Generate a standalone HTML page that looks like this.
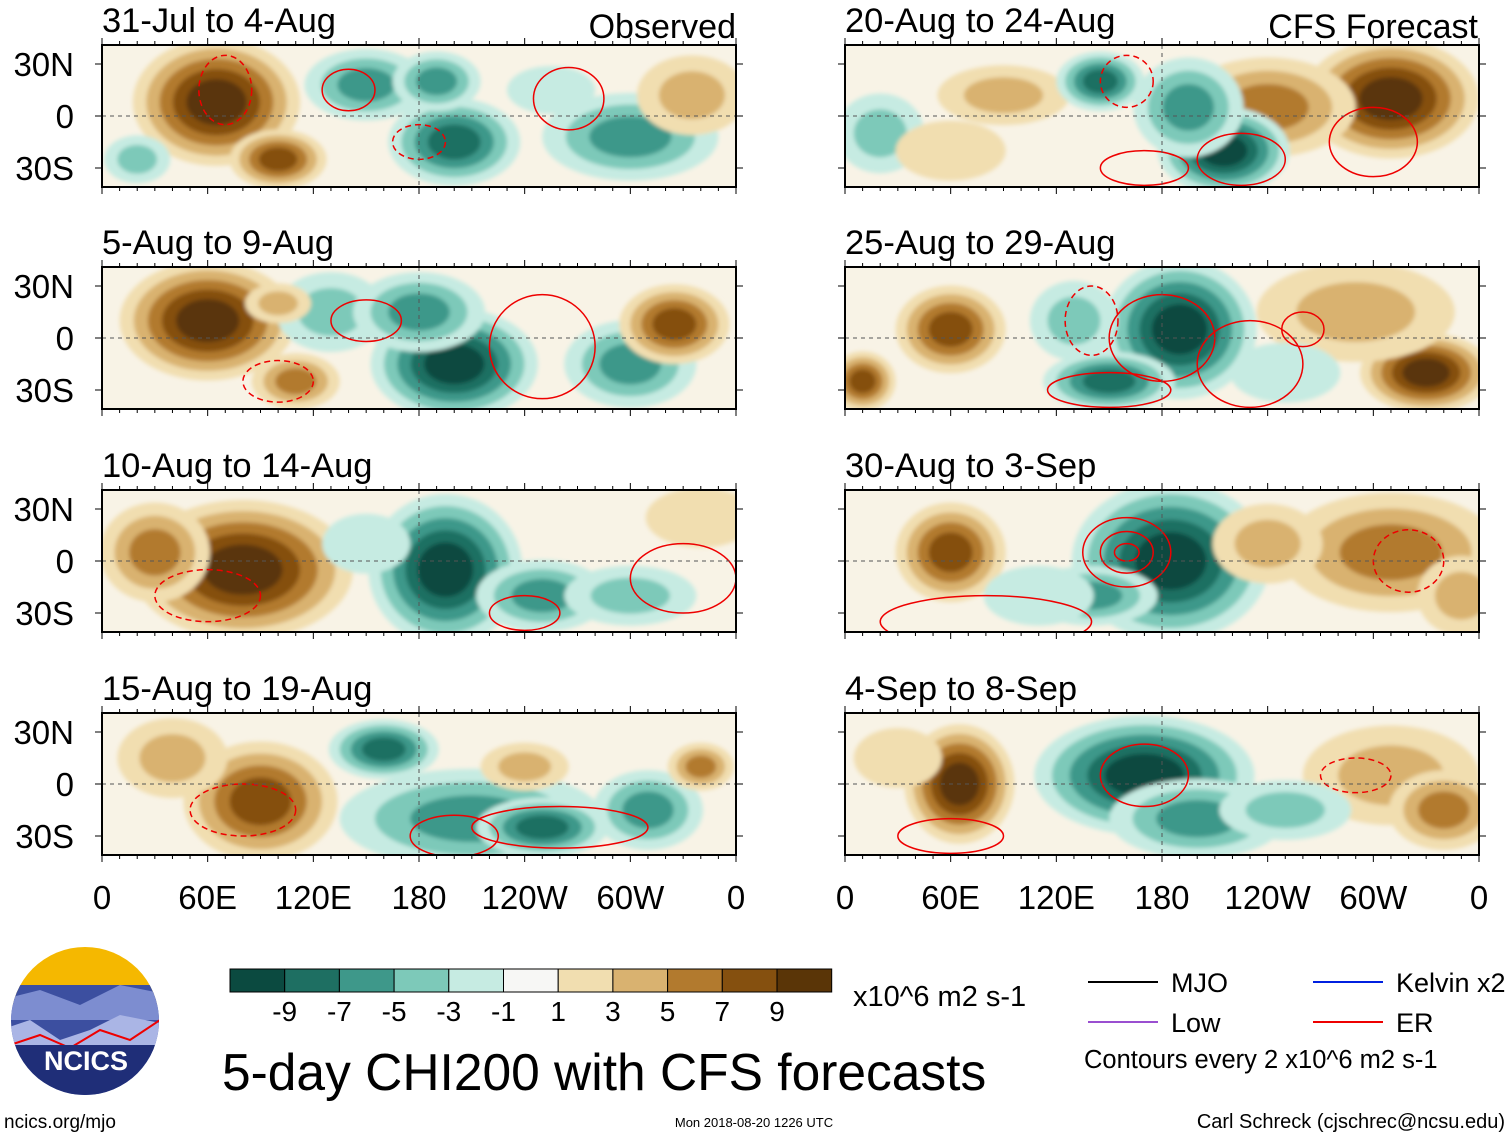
<!DOCTYPE html>
<html><head><meta charset="utf-8">
<style>
body{margin:0;background:#fff;width:1510px;height:1137px;overflow:hidden;font-family:"Liberation Sans",sans-serif;}
svg text{font-family:"Liberation Sans",sans-serif;}
</style></head>
<body>
<svg id="chart" width="1510" height="1137" viewBox="0 0 1510 1137" xmlns="http://www.w3.org/2000/svg">
<defs><filter id="bl" x="-20%" y="-20%" width="140%" height="140%"><feGaussianBlur stdDeviation="2"/></filter></defs>
</svg>
<script>
const titles=["31-Jul to 4-Aug","5-Aug to 9-Aug","10-Aug to 14-Aug","15-Aug to 19-Aug","20-Aug to 24-Aug","25-Aug to 29-Aug","30-Aug to 3-Sep","4-Sep to 8-Sep"];
const levels=[-9,-7,-5,-3,-1,1,3,5,7,9];
const levelColors=["#0b4a40","#1e6f62","#3e988a","#7dc9b9","#c6ebe2","#f7f7f5","#f1deb0","#d9b270","#b27a2e","#85500f","#5a3507"];
// blobs: [lon, lat, rxDeg, ryDeg, peak]
const blobs1=[[65,8,38,32,9],[100,-25,22,15,7],[150,18,28,18,-5],[200,-15,30,22,-7],[190,20,20,15,-5],[300,-12,40,22,-5],[335,12,25,20,3],[20,-25,15,12,-3],[255,15,20,12,-1]];
const blobs2=[[60,10,40,30,9],[110,-25,20,14,5],[130,15,25,20,-3],[200,-15,38,28,-9],[180,15,30,20,-5],[300,-15,30,22,-5],[325,8,25,20,7],[100,20,15,10,3]];
const blobs3=[[80,-5,50,35,9],[30,5,25,25,5],[195,-5,35,38,-9],[250,-20,30,18,-5],[300,-20,30,15,-3],[340,25,25,15,1],[150,10,20,15,-1]];
const blobs4=[[90,-10,35,30,7],[40,15,25,20,3],[160,20,25,15,-7],[210,-20,60,25,-5],[250,-25,30,15,-7],[240,10,20,12,3],[310,-15,25,20,-5],[340,10,15,12,5]];
const blobs5=[[310,10,40,30,9],[240,5,40,25,5],[90,12,30,15,3],[145,20,20,15,-7],[215,-20,30,22,-9],[195,5,25,25,-5],[20,-10,20,20,-3],[60,-20,25,15,1]];
const blobs6=[[190,5,35,35,-9],[150,-25,30,15,-7],[130,10,20,20,-3],[60,5,25,22,7],[330,-20,30,20,9],[10,-25,15,15,7],[290,15,45,25,3],[250,-20,25,15,-1]];
const blobs7=[[185,0,45,40,-9],[140,-20,30,15,-5],[60,5,25,25,7],[310,5,50,30,5],[240,10,25,20,3],[350,-20,20,20,3],[110,-20,25,15,-1]];
const blobs8=[[65,0,25,30,9],[170,5,50,30,-9],[200,-20,40,20,-5],[310,5,40,25,3],[340,-15,25,20,5],[250,-15,30,15,-3],[30,15,20,15,1]];
const allBlobs=[blobs1,blobs2,blobs3,blobs4,blobs5,blobs6,blobs7,blobs8];
// red ER contours: [lon, lat, rx, ry, dashed]
const er=[
 [[70,15,15,20,1],[140,15,15,12,0],[265,10,20,18,0],[180,-15,15,10,1]],
 [[150,10,20,12,0],[250,-5,30,30,0],[100,-25,20,12,1]],
 [[330,-10,30,20,0],[240,-30,20,10,0],[60,-20,30,15,1]],
 [[200,-30,25,12,0],[260,-25,50,12,0],[80,-15,30,15,1]],
 [[300,-15,25,20,0],[225,-25,25,15,0],[170,-30,25,10,0],[160,20,15,15,1]],
 [[180,0,30,25,0],[150,-30,35,10,0],[230,-15,30,25,0],[260,5,12,10,0],[140,10,15,20,1]],
 [[160,5,25,20,0],[160,5,15,12,0],[160,5,7,5,0],[320,0,20,18,1],[80,-35,60,15,0]],
 [[170,5,25,18,0],[290,5,20,10,1],[60,-30,30,10,0]]
];
const svg=document.getElementById('chart');
const NS="http://www.w3.org/2000/svg";
function el(t,a,p){const e=document.createElementNS(NS,t);for(const k in a)e.setAttribute(k,a[k]);(p||svg).appendChild(e);return e;}
const W=634,H=142;
const panelX=[102,845];const panelY=[45,267,490,713];
function colorFor(v){if(v<=-8)return levelColors[0];if(v<=-6)return levelColors[1];if(v<=-4)return levelColors[2];if(v<=-2)return levelColors[3];if(v<0)return levelColors[4];if(v<2)return levelColors[6];if(v<4)return levelColors[7];if(v<6)return levelColors[8];if(v<8)return levelColors[9];return levelColors[10];}
for(let i=0;i<8;i++){
 const px=panelX[i<4?0:1],py=panelY[i%4];
 const xs=lon=>px+lon/360*W, ys=lat=>py+H/2-lat*52/30;
 const g=el('g',{});
 
 
 const cp=el('clipPath',{id:'cp'+i},g);el('rect',{x:px,y:py,width:W,height:H},cp);
 el('rect',{x:px,y:py,width:W,height:H,fill:'#f8f3e6'},g);
 const inner=el('g',{'clip-path':'url(#cp'+i+')'},g);
 const fg=el('g',{filter:'url(#bl)'},inner);
 allBlobs[i].forEach(b=>{
  const [lon,lat,rx,ry,pk]=b;const s=Math.sign(pk);const n=Math.round((Math.abs(pk)+1)/2);
  for(let k=0;k<n;k++){const f=1-0.8*k/n;
   const c=el('ellipse',{cx:xs(lon),cy:ys(lat),rx:rx/360*W*f*1.25,ry:ry*52/30*f*1.15,fill:colorFor(s*(2*k+1))},fg);
   
   }
 });
 er[i].forEach(e=>{const c=el('ellipse',{cx:xs(e[0]),cy:ys(e[1]),rx:e[2]/360*W,ry:e[3]*52/30,fill:'none',stroke:'#e00',"stroke-width":1.5,"stroke-dasharray":e[4]?'6,4':'none'},inner);
  
  });
 el('line',{x1:px,x2:px+W,y1:ys(0),y2:ys(0),stroke:'#555','stroke-dasharray':'4,4'},g);
 el('line',{x1:xs(180),x2:xs(180),y1:py,y2:py+H,stroke:'#555','stroke-dasharray':'4,4'},g);
 el('rect',{x:px,y:py,width:W,height:H,fill:'none',stroke:'#000','stroke-width':2},g);
 for(let l=0;l<=360;l+=10){const L=l%60==0?7:4;el('line',{x1:xs(l),x2:xs(l),y1:py,y2:py-L,stroke:'#000'},g);el('line',{x1:xs(l),x2:xs(l),y1:py+H,y2:py+H+L,stroke:'#000'},g);}
 [-30,0,30].forEach(la=>{el('line',{x1:px-7,x2:px,y1:ys(la),y2:ys(la),stroke:'#000'},g);el('line',{x1:px+W,x2:px+W+7,y1:ys(la),y2:ys(la),stroke:'#000'},g);});
 const t=el('text',{x:px,y:py-13,'font-size':34.5},g);t.textContent=titles[i];
 
 
 if(i<4){[['30N',30],['0',0],['30S',-30]].forEach(a=>{const tt=el('text',{x:74,y:ys(a[1])+12,'font-size':33,'text-anchor':'end'},g);tt.textContent=a[0];
  
  });}
}
const tagObs=el('text',{x:736,y:38,'font-size':34,'text-anchor':'end'});tagObs.textContent='Observed';

const tagF=el('text',{x:1478,y:38,'font-size':34,'text-anchor':'end'});tagF.textContent='CFS Forecast';

const lonLabels=["0","60E","120E","180","120W","60W","0"];
[102,845].forEach(px=>lonLabels.forEach((s,j)=>{const t=el('text',{x:px+j*W/6,y:909,'font-size':33,'text-anchor':'middle'});t.textContent=s;
 }));
const cbLabels=["-9","-7","-5","-3","-1","1","3","5","7","9"];
for(let k=0;k<11;k++){const r=el('rect',{x:230+k*54.7,y:969,width:54.7,height:23,fill:levelColors[k],stroke:'#000','stroke-width':1});
 }
cbLabels.forEach((s,k)=>{const t=el('text',{x:230+(k+1)*54.7,y:1021,'font-size':28,'text-anchor':'middle'});t.textContent=s;
 });
function txt(x,y,s,fs,name,anchor){const t=el('text',{x:x,y:y,'font-size':fs,'text-anchor':anchor||'start'});t.textContent=s;
 return t;}
txt(853,1006,'x10^6 m2 s-1',29,'colorbar-units');
txt(222,1090,'5-day CHI200 with CFS forecasts',51.5,'chart-title');
txt(4,1128,'ncics.org/mjo',19,'website-label');
txt(754,1127,'Mon 2018-08-20 1226 UTC',13,'timestamp','middle');
txt(1505,1128,'Carl Schreck (cjschrec@ncsu.edu)',20,'author-label','end');
[[1088,982,'#000','MJO'],[1088,1022,'#9a4fd0','Low'],[1313,982,'#0020e0','Kelvin x2'],[1313,1022,'#e00','ER']].forEach(a=>{
 const l=el('line',{x1:a[0],x2:a[0]+70,y1:a[1],y2:a[1],stroke:a[2],'stroke-width':2});
 
 txt(a[0]+83,a[1]+10,a[3],27,'legend-entry');});
txt(1084,1068,'Contours every 2 x10^6 m2 s-1',25.5,'contour-note');
const lg=el('g',{});
const lcp=el('clipPath',{id:'lc'},lg);el('circle',{cx:85,cy:1021,r:74},lcp);
const li=el('g',{'clip-path':'url(#lc)'},lg);
el('rect',{x:0,y:945,width:170,height:60,fill:'#f5b800'},li);
el('rect',{x:0,y:985,width:170,height:110,fill:'#3c4fa0'},li);
el('path',{d:'M0,1000 L40,990 L80,1005 L120,985 L170,995 L170,1020 L0,1020Z',fill:'#7d8dd0'},li);
el('path',{d:'M0,1030 L30,1020 L60,1040 L90,1030 L120,1015 L170,1025 L170,1045 L0,1045Z',fill:'#aab5e5'},li);
el('path',{d:'M10,1045 L40,1035 L70,1048 L100,1030 L130,1040 L160,1020',fill:'none',stroke:'#e00','stroke-width':2},li);
el('rect',{x:0,y:1045,width:170,height:60,fill:'#1f2e78'},li);
const lt=el('text',{x:86,y:1070,'font-size':27,'font-weight':'bold','text-anchor':'middle',fill:'#fff'},lg);lt.textContent='NCICS';

</script>
</body></html>
